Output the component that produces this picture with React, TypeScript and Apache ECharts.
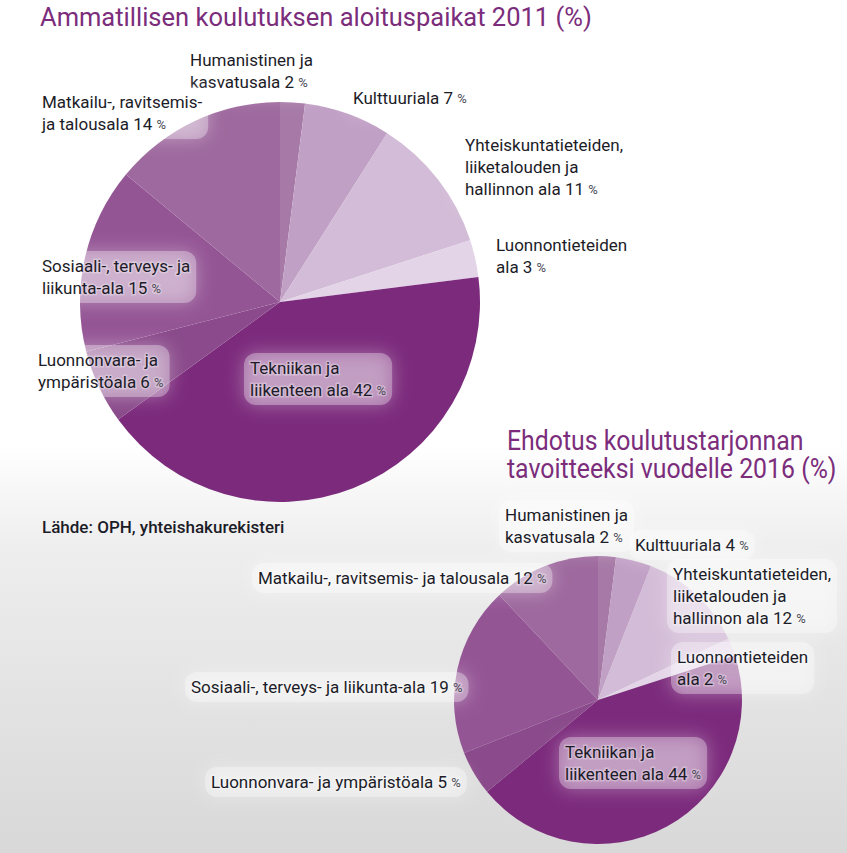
import React, { useEffect, useRef } from "react";
import * as echarts from "echarts";

const categories = [
  "Humanistinen ja kasvatusala",
  "Kulttuuriala",
  "Yhteiskuntatieteiden, liiketalouden ja hallinnon ala",
  "Luonnontieteiden ala",
  "Tekniikan ja liikenteen ala",
  "Luonnonvara- ja ympäristöala",
  "Sosiaali-, terveys- ja liikunta-ala",
  "Matkailu-, ravitsemis- ja talousala",
];
const labels2011 = [
  "Humanistinen ja\nkasvatusala",
  "Kulttuuriala",
  "Yhteiskuntatieteiden,\nliiketalouden ja\nhallinnon ala",
  "Luonnontieteiden\nala",
  "Tekniikan ja\nliikenteen ala",
  "Luonnonvara- ja\nympäristöala",
  "Sosiaali-, terveys- ja\nliikunta-ala",
  "Matkailu-, ravitsemis-\nja talousala",
];
const labels2016 = [
  "Humanistinen ja\nkasvatusala",
  "Kulttuuriala",
  "Yhteiskuntatieteiden,\nliiketalouden ja\nhallinnon ala",
  "Luonnontieteiden\nala",
  "Tekniikan ja\nliikenteen ala",
  "Luonnonvara- ja ympäristöala",
  "Sosiaali-, terveys- ja liikunta-ala",
  "Matkailu-, ravitsemis- ja talousala",
];
const values2011 = [2, 7, 11, 3, 42, 6, 15, 14];
const values2016 = [2, 4, 12, 2, 44, 5, 19, 12];
const title2011 = "Ammatillisen koulutuksen aloituspaikat 2011 (%)";
const title2016Lines = ["Ehdotus koulutustarjonnan", "tavoitteeksi vuodelle 2016 (%)"];
const sourceText = "Lähde: OPH, yhteishakurekisteri";

const sliceColors = ["#a679a6", "#c1a0c5", "#d3bcd7", "#e3d4e7", "#7c2b7c", "#8a4a8b", "#945595", "#9e699e"];
const pos2011 = [[190, 49], [353, 87], [465, 134], [496, 234], [250, 357], [38, 349], [42, 255], [42, 91]];
const pos2016 = [[505, 504], [635, 534], [673, 563], [677, 646], [565, 741], [211, 771], [191, 676], [258, 567]];

const FONT = "Roboto, 'Noto Sans', sans-serif";
const TITLE_COLOR = "#7b2d7b";
const HALO = "rgba(255,255,255,0.3)";

function buildData(values: number[], labels: string[]) {
  return values.map((v, i) => ({
    name: categories[i],
    value: v,
    label: { formatter: `{t|${labels[i]} ${v} }{p|%}` },
    itemStyle: { color: sliceColors[i] },
  }));
}

function pieSeries(values: number[], labels: string[], center: number[], radius: number, pos: number[][]) {
  return {
    type: "pie",
    center,
    radius,
    startAngle: 90,
    clockwise: true,
    silent: true,
    data: buildData(values, labels),
    itemStyle: { borderWidth: 0 },
    labelLine: { show: false },
    label: {
      show: true,
      position: "inside",
      color: "#1c1c28",
      backgroundColor: "rgba(255,255,255,0.32)",
      borderRadius: 12,
      padding: [4, 6, 4, 6],
      shadowColor: "rgba(255,255,255,1)",
      shadowBlur: 18,
      rich: {
        t: {
          fontFamily: FONT,
          fontSize: 17,
          lineHeight: 22,
          color: "#1c1c28",
          textBorderColor: HALO,
          textBorderWidth: 3,
        },
        p: {
          fontFamily: FONT,
          fontSize: 13,
          lineHeight: 22,
          color: "#4a4a55",
          textBorderColor: HALO,
          textBorderWidth: 3,
        },
      },
    },
    labelLayout: (params: any) => {
      const p = pos[params.dataIndex];
      return { x: p[0] - 6, y: p[1] - 4, align: "left", verticalAlign: "top" };
    },
  };
}

export default function App() {
  const ref = useRef<HTMLDivElement>(null);
  useEffect(() => {
    document.body.style.margin = "0";
    const chart = echarts.init(ref.current!, null, { renderer: "svg" });
    chart.setOption({
      animation: false,
      backgroundColor: "#ffffff",
      graphic: [
        {
          type: "rect",
          silent: true,
          z: -10,
          shape: { x: 0, y: 0, width: 847, height: 853 },
          style: {
            fill: new echarts.graphic.LinearGradient(0, 0, 0, 1, [
              { offset: 0, color: "#ffffff" },
              { offset: 0.52, color: "#ffffff" },
              { offset: 0.64, color: "#eeeeee" },
              { offset: 1, color: "#d8d8d8" },
            ]),
          },
        },
        {
          type: "text",
          x: 40,
          y: 5,
          scaleX: 1.02,
          style: {
            text: title2011,
            font: `25px ${FONT}`,
            fill: TITLE_COLOR,
            textVerticalAlign: "top",
          },
        },
        {
          type: "text",
          x: 507,
          y: 427,
          scaleX: 0.92,
          style: {
            text: title2016Lines[0],
            font: `27px ${FONT}`,
            fill: TITLE_COLOR,
            textVerticalAlign: "top",
          },
        },
        {
          type: "text",
          x: 507,
          y: 455,
          scaleX: 0.92,
          style: {
            text: title2016Lines[1],
            font: `27px ${FONT}`,
            fill: TITLE_COLOR,
            textVerticalAlign: "top",
          },
        },
        {
          type: "text",
          x: 42,
          y: 518,
          style: {
            text: sourceText,
            font: `500 17px ${FONT}`,
            fill: "#1c1c28",
            textVerticalAlign: "top",
          },
        },
      ],
      series: [
        pieSeries(values2011, labels2011, [280, 302], 200, pos2011),
        pieSeries(values2016, labels2016, [598, 700], 144, pos2016),
      ],
    });
    return () => chart.dispose();
  }, []);
  return <div ref={ref} style={{ width: 847, height: 853 }} />;
}
